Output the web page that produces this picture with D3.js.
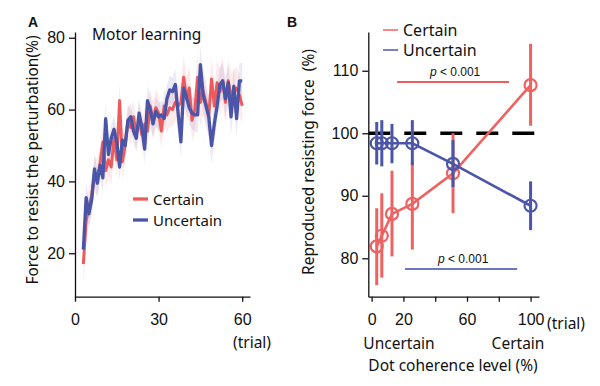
<!DOCTYPE html>
<html>
<head>
<meta charset="utf-8">
<script src="https://cdn.jsdelivr.net/npm/d3@7"></script>
<style>
  body { margin: 0; background: #fff; }
  svg { display: block; }
  text { font-family: "Noto Sans", "Noto Sans CJK JP", sans-serif; fill: #111; }
  .tick text { font-family: "Liberation Sans", Arial, sans-serif; font-size: 16px; }
</style>
</head>
<body>
<div id="chart"></div>
<script>
// ---- panel A : motor learning (trial 3..60) ----
const trialStart = 3;
const certainForce = [17, 29, 33, 36, 42, 41, 45, 51, 43, 46, 44, 52, 46, 62.5, 45.5, 50, 57, 55, 58, 53,
  57, 53, 56, 54, 61, 57, 60.5, 59, 54, 61, 58.5, 60.5, 60, 62, 61, 62, 69, 63, 66, 57,
  60, 69, 62, 65, 62, 58, 68.5, 61, 67.5, 65, 68, 62, 68, 64, 65, 66, 64, 61];
const uncertainForce = [21, 35.5, 31, 35, 43.5, 39.5, 44.5, 41, 57.5, 47.5, 52, 54.5, 51, 44, 51.5, 50, 57, 58, 54, 52,
  59, 55, 49, 62.5, 60, 56, 59.5, 58, 58.5, 57.5, 63, 65.5, 65, 67, 59, 51, 66, 63.5, 60.5, 59,
  58.5, 58.5, 72.5, 64, 61, 58, 50, 56, 61, 67, 68, 63, 67.5, 58, 66.5, 57.5, 68, 68];
const certainSem = [6, 6, 5, 5, 5, 5, 5, 5, 5, 5, 5, 5, 5, 5, 5, 5, 5, 4.5, 4.5, 4.5,
  4.5, 4.5, 4.5, 4.5, 5, 5, 5, 5, 5, 5, 5, 5, 5, 5, 5.5, 5.5, 6, 6, 6, 6,
  6, 6.5, 6.5, 6.5, 6, 6, 6, 6, 6, 6.5, 6.5, 6, 6, 6, 6, 6, 5.5, 5.5];
const uncertainSem = [4, 4, 4, 4, 4, 4, 4, 4, 4, 4, 4, 3.5, 3.5, 3.5, 3.5, 3.5, 3.5, 3.5, 3.5, 3.5,
  4, 4, 4, 4, 4, 4, 4, 4, 4, 4, 4, 4, 4, 4.5, 4.5, 4.5, 4.5, 4.5, 4.5, 4.5,
  4.5, 5, 5.5, 5, 5, 5, 5, 5, 5, 5, 5, 5, 5, 5, 5, 5, 5, 5];
const ticksA_x = [0, 30, 60];
const ticksA_y = [20, 40, 60, 80];

// ---- panel B : reproduced force vs coherence ----
const coherence = [3.2, 6.4, 12.8, 25.6, 51.2, 100];
const certainMean = [81.9, 83.6, 87.1, 88.7, 93.6, 107.7];
const certainLo = [75.7, 76.9, 80.3, 81.4, 87.2, 101.2];
const certainHi = [88.0, 90.4, 94.0, 95.5, 100.0, 114.3];
const uncertainMean = [98.4, 98.4, 98.4, 98.4, 95.1, 88.4];
const uncertainLo = [95.0, 94.7, 95.2, 94.9, 91.4, 84.5];
const uncertainHi = [101.8, 102.1, 101.5, 102.1, 98.9, 92.3];
const ticksB_x = [0, 20, 40, 60, 80, 100];
const labelsB_x = [0, 20, 60, 100];
const ticksB_y = [80, 90, 100, 110];
const baseline = 100;
// significance bars: [x0, x1, y]
const sigCertain = [16, 86.5, 108.2];
const sigUncertain = [21, 91.6, 78.3];

const RED = "#ec5a5c", BLUE = "#4b55a8";
const RED_B = "#ef6262", BLUE_B = "#4c56a9";

const svg = d3.select("#chart").append("svg").attr("width", 600).attr("height", 386);

// ===== panel A =====
if (1) {
  const x = d3.scaleLinear().domain([0, 62.8]).range([75, 250]);
  const y = d3.scaleLinear().domain([7.9, 81.6]).range([296.7, 32]);
  const g = svg.append("g");

  const band = (vals, sem) => d3.area()
    .x((d, i) => x(i + trialStart))
    .y0((d, i) => y(vals[i] - sem[i]))
    .y1((d, i) => y(vals[i] + sem[i]))(vals);
  const line = d3.line().x((d, i) => x(i + trialStart)).y(d => y(d));

  g.append("path").attr("d", band(certainForce, certainSem)).attr("fill", RED).attr("opacity", 0.13);
  g.append("path").attr("d", band(uncertainForce, uncertainSem)).attr("fill", "#7a84c8").attr("opacity", 0.16);
  g.append("path").attr("d", line(certainForce)).attr("fill", "none")
    .attr("stroke", RED).attr("stroke-width", 3).attr("stroke-linejoin", "round");
  g.append("path").attr("d", line(uncertainForce)).attr("fill", "none")
    .attr("stroke", BLUE).attr("stroke-width", 3.3).attr("stroke-linejoin", "round");

  const ax = g.append("g").attr("transform", "translate(0,296.7)")
    .call(d3.axisBottom(x).tickValues(ticksA_x).tickSize(5).tickPadding(12).tickSizeOuter(0));
  const ay = g.append("g").attr("transform", "translate(75,0)")
    .call(d3.axisLeft(y).tickValues(ticksA_y).tickSize(6).tickPadding(4).tickSizeOuter(0));
  [ax, ay].forEach(a => {
    a.select(".domain").attr("stroke", "#111").attr("stroke-width", 1.3);
    a.selectAll(".tick line").attr("stroke", "#111").attr("stroke-width", 1.3);
  });

  g.append("text").attr("x", 28).attr("y", 27).style("font-size", "14px").style("font-weight", "bold")
    .style("font-family", "Liberation Sans, Arial, sans-serif").text("A");
  g.append("text").attr("x", 92).attr("y", 40).style("font-size", "15.5px").text("Motor learning");
  g.append("text").attr("x", 252).attr("y", 348).attr("text-anchor", "middle")
    .style("font-size", "15.5px").text("(trial)");
  g.append("text").attr("transform", "translate(38,160) rotate(-90)").attr("text-anchor", "middle")
    .style("font-size", "15.5px").text("Force to resist the perturbation(%)");

  const leg = [["Certain", RED, 199], ["Uncertain", BLUE, 220]];
  leg.forEach(l => {
    g.append("line").attr("x1", 133).attr("x2", 148).attr("y1", l[2]).attr("y2", l[2])
      .attr("stroke", l[1]).attr("stroke-width", 3.3);
    g.append("text").attr("x", 153).attr("y", l[2] + 5.5).style("font-size", "15px").text(l[0]);
  });
}

// ===== panel B =====
if (1) {
  const x = d3.scaleLinear().domain([-2.1, 105.3]).range([368.3, 539]);
  const y = d3.scaleLinear().domain([73.85, 116.2]).range([296.7, 32]);
  const g = svg.append("g");

  g.append("line").attr("x1", x(-2.1)).attr("x2", x(105.3)).attr("y1", y(baseline)).attr("y2", y(baseline))
    .attr("stroke", "#000").attr("stroke-width", 3.6).attr("stroke-dasharray", "22,14");

  const series = [
    { mean: certainMean, lo: certainLo, hi: certainHi, c: RED_B },
    { mean: uncertainMean, lo: uncertainLo, hi: uncertainHi, c: BLUE_B }
  ];
  series.forEach(s => {
    g.selectAll(null).data(coherence).enter().append("line")
      .attr("x1", d => x(d)).attr("x2", d => x(d))
      .attr("y1", (d, i) => y(s.lo[i])).attr("y2", (d, i) => y(s.hi[i]))
      .attr("stroke", s.c).attr("stroke-width", 3);
    g.append("path").attr("d", d3.line().x((d, i) => x(coherence[i])).y(d => y(d))(s.mean))
      .attr("fill", "none").attr("stroke", s.c).attr("stroke-width", 2.6);
    g.selectAll(null).data(coherence).enter().append("circle")
      .attr("cx", d => x(d)).attr("cy", (d, i) => y(s.mean[i])).attr("r", 6)
      .attr("fill", "none").attr("stroke", s.c).attr("stroke-width", 2.2);
  });

  // significance
  [[sigCertain, "#e8262a"], [sigUncertain, "#3d4ba3"]].forEach(sg => {
    const s = sg[0];
    g.append("line").attr("x1", x(s[0])).attr("x2", x(s[1])).attr("y1", y(s[2])).attr("y2", y(s[2]))
      .attr("stroke", sg[1]).attr("stroke-width", 1.5);
    const t = g.append("text").attr("x", (x(s[0]) + x(s[1])) / 2 + 2).attr("y", y(s[2]) - 6)
      .attr("text-anchor", "middle").style("font-size", "12px")
      .style("font-family", "Liberation Sans, Arial, sans-serif");
    t.append("tspan").style("font-style", "italic").text("p");
    t.append("tspan").text(" < 0.001");
  });

  const ax = g.append("g").attr("transform", "translate(0,296.7)")
    .call(d3.axisBottom(x).tickValues(ticksB_x).tickSize(5).tickPadding(12).tickSizeOuter(0)
      .tickFormat(d => labelsB_x.includes(d) ? d : ""));
  const ay = g.append("g").attr("transform", "translate(368.3,0)")
    .call(d3.axisLeft(y).tickValues(ticksB_y).tickSize(6).tickPadding(4).tickSizeOuter(0));
  [ax, ay].forEach(a => {
    a.select(".domain").attr("stroke", "#111").attr("stroke-width", 1.3);
    a.selectAll(".tick line").attr("stroke", "#111").attr("stroke-width", 1.3);
  });

  g.append("text").attr("x", 287).attr("y", 27).style("font-size", "14px").style("font-weight", "bold")
    .style("font-family", "Liberation Sans, Arial, sans-serif").text("B");
  g.append("text").attr("x", 547).attr("y", 329)
    .style("font-size", "15.5px").text("(trial)");
  g.append("text").attr("x", 399).attr("y", 349).attr("text-anchor", "middle")
    .style("font-size", "15.5px").text("Uncertain");
  g.append("text").attr("x", 518).attr("y", 349).attr("text-anchor", "middle")
    .style("font-size", "15.5px").text("Certain");
  g.append("text").attr("x", 453).attr("y", 371).attr("text-anchor", "middle")
    .style("font-size", "15.5px").text("Dot coherence level (%)");
  g.append("text").attr("transform", "translate(314,162) rotate(-90)").attr("text-anchor", "middle")
    .style("font-size", "15.5px").text("Reproduced resisting force\u00a0 (%)");

  const leg = [["Certain", RED_B, 30], ["Uncertain", BLUE_B, 50]];
  leg.forEach(l => {
    g.append("line").attr("x1", 383).attr("x2", 398).attr("y1", l[2]).attr("y2", l[2])
      .attr("stroke", l[1]).attr("stroke-width", 1.5);
    g.append("text").attr("x", 403).attr("y", l[2] + 6).style("font-size", "16px").text(l[0]);
  });
}
</script>
</body>
</html>
